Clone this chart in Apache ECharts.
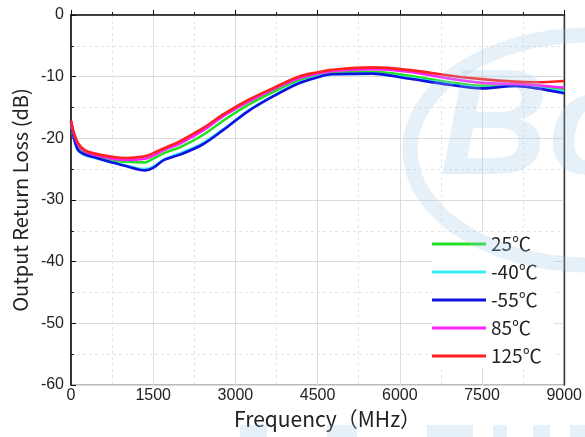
<!DOCTYPE html>
<html>
<head>
<meta charset="utf-8">
<script src="https://cdn.jsdelivr.net/npm/echarts@6/dist/echarts.min.js"></script>
<style>html,body{margin:0;padding:0;background:#fff;}#c{width:585px;height:437px;}</style>
</head>
<body>
<div id="c"></div>
<script>
const freq = [0, 50, 130, 250, 400, 750, 1000, 1350, 1500, 1700, 2000, 2400, 2800, 3250, 3750, 4150, 4500, 4750, 5500, 6150, 6900, 7500, 8100, 8500, 9000];
const t25  = [-17.3,-19.4,-21.3,-22.3,-22.9,-23.6,-23.8,-23.9,-23.3,-22.4,-21.4,-19.5,-17.0,-14.5,-12.2,-10.6,-9.8,-9.4,-9.2,-9.8,-10.9,-11.5,-11.4,-11.6,-12.0];
const tm40 = [-17.4,-19.9,-22.0,-22.7,-23.1,-23.9,-24.4,-25.0,-24.6,-23.4,-22.4,-20.8,-18.4,-15.4,-12.8,-11.0,-10.0,-9.6,-9.5,-10.2,-11.2,-11.8,-11.5,-11.8,-12.4];
const tm55 = [-17.3,-19.8,-21.9,-22.6,-23.0,-23.9,-24.5,-25.2,-24.8,-23.5,-22.6,-21.0,-18.5,-15.5,-12.9,-11.1,-10.1,-9.6,-9.5,-10.3,-11.3,-11.9,-11.5,-11.9,-12.7];
const t85  = [-17.2,-19.2,-21.0,-22.1,-22.6,-23.3,-23.5,-23.3,-22.8,-21.9,-20.8,-18.8,-16.3,-14.0,-11.8,-10.3,-9.5,-9.1,-8.8,-9.2,-10.3,-11.0,-11.2,-11.4,-11.8];
const t125 = [-17.1,-19.0,-20.8,-21.9,-22.4,-23.0,-23.2,-22.9,-22.4,-21.6,-20.4,-18.4,-16.0,-13.7,-11.6,-10.0,-9.3,-8.9,-8.5,-8.9,-9.8,-10.4,-10.8,-10.9,-10.7];
const names = ['25℃', '-40℃', '-55℃', '85℃', '125℃'];
const seriesVals = [t25, tm40, tm55, t85, t125];
const colors = ['#22e022', '#33eef0', '#1010e0', '#ff22ff', '#ff2020'];

const chart = echarts.init(document.getElementById('c'), null, {renderer: 'canvas'});
const wm = 'rgba(160,198,228,0.26)';
const labelFont = 'Arial, "Liberation Sans", sans-serif';
chart.setOption({
  backgroundColor: '#fff',
  animation: false,
  grid: {left: 71, right: 19, top: 15, bottom: 52, show: true, borderColor: '#777', borderWidth: 1.2},
  legend: {
    orient: 'vertical', left: 432, top: 232,
    icon: 'rect', itemWidth: 54, itemHeight: 3, itemGap: 8,
    backgroundColor: '#fff', padding: [2, 12, 2, 0],
    textStyle: {fontFamily: 'Noto Sans CJK SC', fontSize: 19, color: '#222', lineHeight: 20},
    data: names
  },
  xAxis: {
    type: 'value', min: 0, max: 9000, interval: 1500,
    name: 'Frequency（MHz）', nameLocation: 'middle', nameGap: 16,
    nameTextStyle: {fontFamily: 'Noto Sans CJK SC', fontSize: 21, color: '#222', padding: [0, 0, 0, 20]},
    axisLine: {show: true, lineStyle: {color: '#111', width: 1.6}},
    axisTick: {show: true, inside: true, length: 5, lineStyle: {color: '#111'}},
    minorTick: {show: true, splitNumber: 2, length: 3, lineStyle: {color: '#111'}},
    axisLabel: {fontFamily: labelFont, fontSize: 16, color: '#222', margin: 3, formatter: v => String(v)},
    splitLine: {show: true, lineStyle: {color: '#dcdcdc', width: 1}},
    minorSplitLine: {show: true, lineStyle: {color: '#e4e4e4', type: [3, 3], width: 1}}
  },
  yAxis: [{
    type: 'value', min: -60, max: 0, interval: 10,
    name: 'Output Return Loss (dB)', nameLocation: 'middle', nameGap: 36,
    nameTextStyle: {fontFamily: 'Noto Sans CJK SC', fontSize: 20, color: '#222'},
    axisLine: {show: true, lineStyle: {color: '#111', width: 1.6}},
    axisTick: {show: true, inside: true, length: 5, lineStyle: {color: '#111'}},
    minorTick: {show: true, splitNumber: 2, length: 3, lineStyle: {color: '#111'}},
    axisLabel: {fontFamily: labelFont, fontSize: 16, color: '#222', margin: 7, formatter: v => String(v)},
    splitLine: {show: true, lineStyle: {color: '#dcdcdc', width: 1}},
    minorSplitLine: {show: true, lineStyle: {color: '#e4e4e4', type: [3, 3], width: 1}}
  }, {
    type: 'value', min: -60, max: 0, position: 'right',
    axisLine: {show: true, lineStyle: {color: '#333', width: 1.4}},
    axisTick: {show: false}, axisLabel: {show: false}, splitLine: {show: false}
  }],
  series: seriesVals.map((vals, i) => ({
    name: names[i], type: 'line', smooth: 0.35, symbol: 'none',
    data: freq.map((f, j) => [f, vals[j]]),
    lineStyle: {color: colors[i], width: 2.6},
    itemStyle: {color: colors[i]}, z: 2 + i
  })),
  graphic: [
    {type: 'ellipse', shape: {cx: 590, cy: 150, rx: 180, ry: 115}, style: {fill: 'none', stroke: wm, lineWidth: 15}, z: 100, silent: true},
    {type: 'text', left: 440, top: 58, style: {text: 'Bo', fontFamily: 'Liberation Sans', fontStyle: 'italic', fontWeight: 'bold', fontSize: 150, fill: wm}, z: 100, silent: true},
    {type: 'rect', shape: {x: 240, y: 425, width: 27, height: 12}, style: {fill: wm}, z: 100, silent: true},
    {type: 'rect', shape: {x: 327, y: 425, width: 30, height: 12}, style: {fill: wm}, z: 100, silent: true},
    {type: 'rect', shape: {x: 427, y: 425, width: 46, height: 12}, style: {fill: wm}, z: 100, silent: true},
    {type: 'rect', shape: {x: 493, y: 425, width: 14, height: 12}, style: {fill: wm}, z: 100, silent: true},
    {type: 'rect', shape: {x: 533, y: 425, width: 17, height: 12}, style: {fill: wm}, z: 100, silent: true},
    {type: 'rect', shape: {x: 570, y: 425, width: 15, height: 12}, style: {fill: wm}, z: 100, silent: true}
  ]
});
</script>
</body>
</html>
